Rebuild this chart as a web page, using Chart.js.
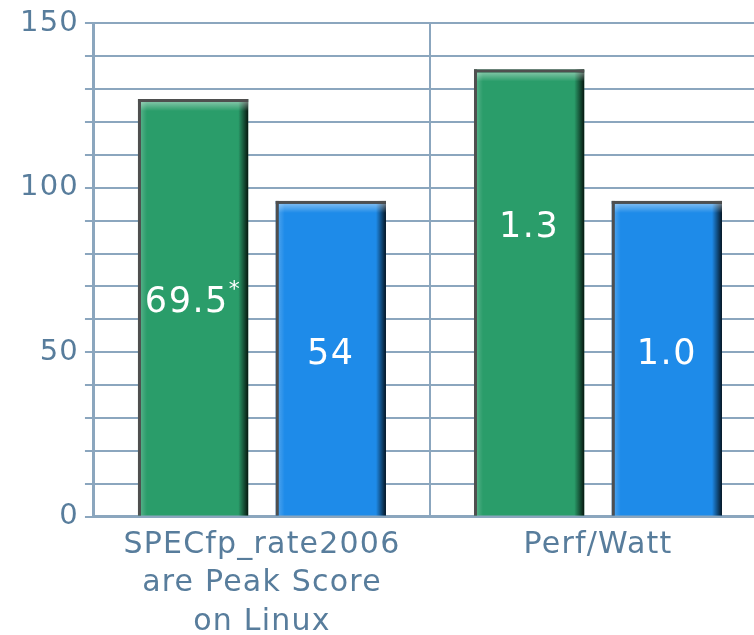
<!DOCTYPE html>
<html>
<head>
<meta charset="utf-8">
<script src="https://cdn.jsdelivr.net/npm/chart.js@4.4.1/dist/chart.umd.min.js"></script>
<style>
  html, body { margin: 0; padding: 0; background: #fff; overflow: hidden; }
</style>
</head>
<body>
<canvas id="specChart" width="766" height="650"></canvas>
<script>
// values
const categories = [['SPECfp_rate2006', 'are Peak Score', 'on Linux'], 'Perf/Watt'];
const newSystem = [127, 136];
const oldSystem = [96, 96];
const newLabels = ['69.5*', '1.3'];
const oldLabels = ['54', '1.0'];
const yTickLabels = [0, 50, 100, 150];

const axisColor = '#8ba6be';
const textColor = '#587d9c';

// the original text is a bit wider-set than DejaVu
const spacing = {
  id: 'spacing',
  beforeUpdate(chart) { chart.ctx.letterSpacing = '1.2px'; },
  beforeDraw(chart) { chart.ctx.letterSpacing = '1.2px'; }
};

// glossy shading + border on each bar
const barShade = {
  id: 'barShade',
  afterDatasetsDraw(chart) {
    const ctx = chart.ctx;
    chart.data.datasets.forEach((ds, i) => {
      chart.getDatasetMeta(i).data.forEach(bar => {
        const { x, y, base, width } = bar.getProps(['x', 'y', 'base', 'width'], true);
        const left = x - width / 2, right = x + width / 2;
        ctx.save();
        // dark right edge
        let g = ctx.createLinearGradient(right - 10, 0, right, 0);
        g.addColorStop(0, 'rgba(0,0,0,0)');
        g.addColorStop(1, 'rgba(0,0,0,0.85)');
        ctx.fillStyle = g;
        ctx.fillRect(right - 10, y, 10, base - y);
        // light top strip
        g = ctx.createLinearGradient(0, y + 3, 0, y + 12);
        g.addColorStop(0, 'rgba(255,255,255,0.4)');
        g.addColorStop(1, 'rgba(255,255,255,0)');
        ctx.fillStyle = g;
        ctx.fillRect(left + 3, y + 3, width - 3, 9);
        // light left strip
        g = ctx.createLinearGradient(left + 3, 0, left + 9, 0);
        g.addColorStop(0, 'rgba(255,255,255,0.18)');
        g.addColorStop(1, 'rgba(255,255,255,0)');
        ctx.fillStyle = g;
        ctx.fillRect(left + 3, y + 3, 6, base - y - 3);
        // grey border on top and left
        ctx.fillStyle = '#4f4f4f';
        ctx.fillRect(left, y, width, 3);
        ctx.fillRect(left, y, 3, base - y);
        ctx.restore();
      });
    });
  }
};

// white value labels inside bars
const barText = {
  id: 'barText',
  afterDatasetsDraw(chart, args, opts) {
    const ctx = chart.ctx;
    chart.data.datasets.forEach((ds, i) => {
      chart.getDatasetMeta(i).data.forEach((bar, j) => {
        const { x, y, base } = bar.getProps(['x', 'y', 'base'], true);
        const text = ds.valueLabels[j];
        const ty = base - (base - y) * opts.lift[i][j];
        ctx.save();
        ctx.letterSpacing = '1.5px';
        ctx.fillStyle = '#ffffff';
        ctx.textBaseline = 'middle';
        ctx.textAlign = 'left';
        const star = text.endsWith('*');
        const main = star ? text.slice(0, -1) : text;
        ctx.font = '35px "DejaVu Sans"';
        const mw = ctx.measureText(main).width;
        ctx.font = '22px "DejaVu Sans"';
        const sw = star ? ctx.measureText('*').width : 0;
        const start = x - (mw + sw) / 2;
        ctx.font = '35px "DejaVu Sans"';
        ctx.fillText(main, start, ty);
        if (star) {
          ctx.font = '22px "DejaVu Sans"';
          ctx.fillText('*', start + mw, ty - 13);
        }
        ctx.restore();
      });
    });
  }
};

new Chart(document.getElementById('specChart'), {
  type: 'bar',
  data: {
    labels: categories,
    datasets: [
      {
        data: newSystem,
        valueLabels: newLabels,
        backgroundColor: '#2a9d6a',
        borderWidth: 0,
        categoryPercentage: 0.82,
        barPercentage: 0.8
      },
      {
        data: oldSystem,
        valueLabels: oldLabels,
        backgroundColor: '#1e8be9',
        borderWidth: 0,
        categoryPercentage: 0.82,
        barPercentage: 0.8
      }
    ]
  },
  options: {
    responsive: false,
    animation: false,
    layout: { padding: { top: 6, left: 14, right: 0, bottom: 0 } },
    plugins: {
      legend: { display: false },
      tooltip: { enabled: false },
      barText: { lift: [[0.51, 0.645], [0.51, 0.51]] }
    },
    scales: {
      x: {
        grid: { color: axisColor, lineWidth: 2, drawTicks: false, offset: true },
        border: { color: axisColor, width: 3 },
        ticks: {
          color: textColor,
          font: { family: 'DejaVu Sans', size: 30, lineHeight: 1.283 },
          padding: 9,
          maxRotation: 0
        }
      },
      y: {
        min: 0,
        max: 150,
        grid: { color: axisColor, lineWidth: 2, tickLength: 9 },
        border: { color: axisColor, width: 3 },
        ticks: {
          stepSize: 10,
          color: textColor,
          font: { family: 'DejaVu Sans', size: 29 },
          padding: 6,
          autoSkip: false,
          callback: v => yTickLabels.includes(v) ? String(v) : ''
        }
      }
    }
  },
  plugins: [spacing, barShade, barText]
});
</script>
</body>
</html>
